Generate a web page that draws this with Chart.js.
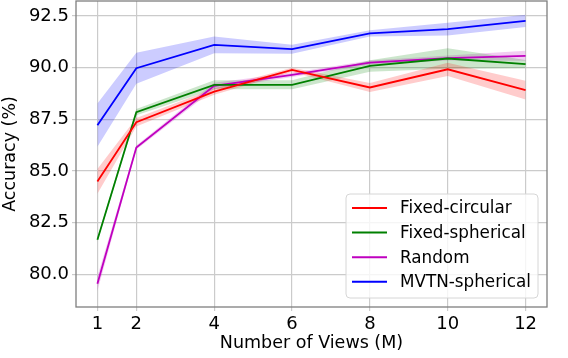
<!DOCTYPE html>
<html>
<head>
<meta charset="utf-8">
<script src="https://cdn.jsdelivr.net/npm/chart.js@4/dist/chart.umd.min.js"></script>
<style>
  body { margin: 0; background: #fff; }
  #wrap { width: 568px; height: 358px; }
</style>
</head>
<body>
<div id="wrap"><canvas id="accChart" width="568" height="358"></canvas></div>
<script>
// --- data ---
const views = [1, 2, 4, 6, 8, 10, 12];
const xTicks = [1, 2, 4, 6, 8, 10, 12];
const yTicks = [80, 82.5, 85, 87.5, 90, 92.5];

const fixedCircular = [84.5, 87.36, 88.84, 89.89, 89.04, 89.92, 88.91];
const fixedCircularErr = [0.6, 0.2, 0.15, 0.1, 0.22, 0.32, 0.45];
const fixedSpherical = [81.68, 87.85, 89.17, 89.17, 90.08, 90.44, 90.17];
const fixedSphericalErr = [0.1, 0.15, 0.22, 0.22, 0.28, 0.5, 0.2];
const randomViews = [79.55, 86.14, 89.12, 89.65, 90.24, 90.46, 90.57];
const randomErr = [0.35, 0.1, 0.15, 0.1, 0.1, 0.12, 0.24];
const mvtnSpherical = [87.22, 89.97, 91.1, 90.89, 91.66, 91.86, 92.26];
const mvtnErr = [1.05, 0.75, 0.4, 0.22, 0.15, 0.31, 0.3];

const series = [
  { label: "Fixed-circular", mean: fixedCircular, err: fixedCircularErr, color: "#ff0000", rgb: "255, 0, 0" },
  { label: "Fixed-spherical", mean: fixedSpherical, err: fixedSphericalErr, color: "#008000", rgb: "0, 128, 0" },
  { label: "Random", mean: randomViews, err: randomErr, color: "#bf00bf", rgb: "191, 0, 191" },
  { label: "MVTN-spherical", mean: mvtnSpherical, err: mvtnErr, color: "#0000ff", rgb: "0, 0, 255" },
];

const FONT = "'DejaVu Sans', sans-serif";
const GRID = "#cbcbcb";

// line datasets first so they sit on top, bands after
const datasets = [];
series.forEach(s => {
  datasets.push({
    label: s.label,
    data: views.map((v, i) => ({ x: v, y: s.mean[i] })),
    borderColor: s.color,
    borderWidth: 1.8,
    pointRadius: 0,
    fill: false,
    tension: 0,
    isLegend: true,
  });
});
series.forEach(s => {
  datasets.push({
    label: s.label + " upper",
    data: views.map((v, i) => ({ x: v, y: s.mean[i] + s.err[i] })),
    borderWidth: 0,
    pointRadius: 0,
    fill: false,
  });
  datasets.push({
    label: s.label + " lower",
    data: views.map((v, i) => ({ x: v, y: s.mean[i] - s.err[i] })),
    borderWidth: 0,
    pointRadius: 0,
    backgroundColor: `rgba(${s.rgb}, 0.2)`,
    fill: "-1",
  });
});

// frame round the plot area
const framePlugin = {
  id: "frame",
  afterDatasetsDraw(chart) {
    const { ctx, chartArea: a } = chart;
    ctx.save();
    ctx.strokeStyle = "#7f7f7f";
    ctx.lineWidth = 1.3;
    ctx.strokeRect(a.left, a.top, a.right - a.left, a.bottom - a.top);
    ctx.restore();
  },
};

// legend inside the plot, lower right
const legendPlugin = {
  id: "innerLegend",
  afterDraw(chart) {
    const { ctx } = chart;
    const items = chart.data.datasets.filter(d => d.isLegend);
    const bx = 346, by = 194, bw = 192, bh = 104, r = 4;
    ctx.save();
    ctx.beginPath();
    ctx.roundRect(bx, by, bw, bh, r);
    ctx.fillStyle = "rgba(255,255,255,0.8)";
    ctx.fill();
    ctx.strokeStyle = "#d6d6d6";
    ctx.lineWidth = 1;
    ctx.stroke();
    ctx.font = `16.8px ${FONT}`;
    ctx.textBaseline = "middle";
    items.forEach((d, i) => {
      const y = 208 + i * 24.6;
      ctx.strokeStyle = d.borderColor;
      ctx.lineWidth = 2;
      ctx.beginPath();
      ctx.moveTo(352, y);
      ctx.lineTo(387, y);
      ctx.stroke();
      ctx.fillStyle = "#000";
      ctx.fillText(d.label, 400, y + 1);
    });
    ctx.restore();
  },
};

new Chart(document.getElementById("accChart"), {
  type: "line",
  data: { datasets },
  options: {
    responsive: false,
    animation: false,
    layout: { padding: { top: 1, right: 21, left: 0, bottom: 0 } },
    plugins: {
      legend: { display: false },
      tooltip: { enabled: false },
      filler: { propagate: false },
    },
    scales: {
      x: {
        type: "linear",
        min: 0.45,
        max: 12.55,
        afterBuildTicks: scale => { scale.ticks = xTicks.map(v => ({ value: v })); },
        afterFit: scale => {
          scale.height = 51;
          scale.paddingLeft = 0;
          scale.paddingRight = 0;
        },
        ticks: { color: "#000", font: { family: FONT, size: 18 }, padding: 3, maxRotation: 0 },
        grid: { color: GRID, lineWidth: 1.2, tickLength: 4 },
        border: { display: false },
        title: { display: true, text: "Number of Views (M)", color: "#000", font: { family: FONT, size: 17.5 }, padding: { top: 0, bottom: 4 } },
      },
      y: {
        min: 78.43,
        max: 93.22,
        afterBuildTicks: scale => { scale.ticks = yTicks.map(v => ({ value: v })); },
        afterFit: scale => {
          scale.width = 76;
          scale.paddingTop = 0;
          scale.paddingBottom = 0;
        },
        ticks: { color: "#000", font: { family: FONT, size: 18 }, padding: 3, callback: v => v.toFixed(1) },
        grid: { color: GRID, lineWidth: 1.2, tickLength: 4 },
        border: { display: false },
        title: { display: true, text: "Accuracy (%)", color: "#000", font: { family: FONT, size: 17.5 }, padding: { top: 0, bottom: 0 } },
      },
    },
  },
  plugins: [framePlugin, legendPlugin],
});
</script>
</body>
</html>
